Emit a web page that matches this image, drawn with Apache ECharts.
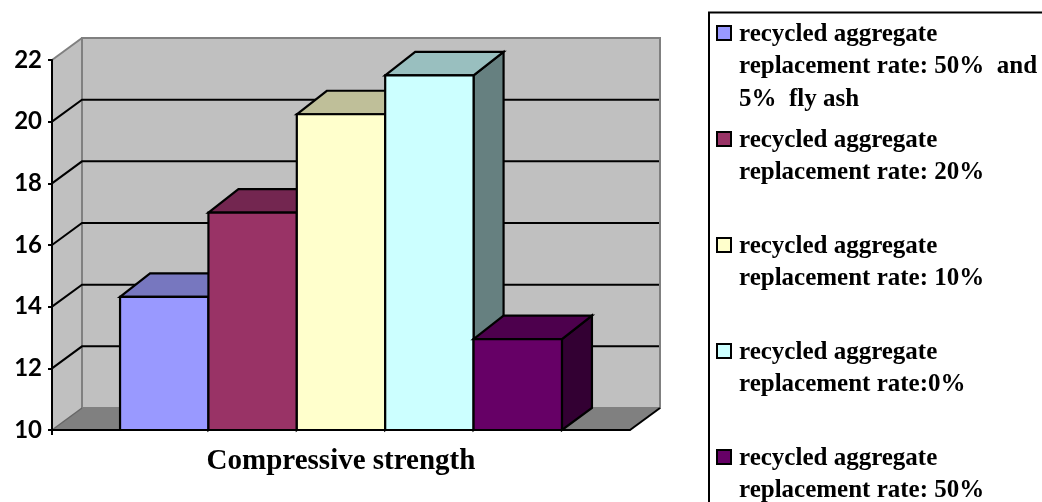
<!DOCTYPE html>
<html>
<head>
<meta charset="utf-8">
<title>Compressive strength</title>
<style>html,body{margin:0;padding:0;background:#fff}#chart{width:1042px;height:502px}</style>
<script src="https://cdn.jsdelivr.net/npm/echarts@6/dist/echarts.min.js"></script>
</head>
<body>
<div id="chart"></div>
<script>
// Compressive strength by recycled aggregate mix
const categories = ['Compressive strength'];
const yTicks = [10, 12, 14, 16, 18, 20, 22];
const seriesNames = [
  'recycled aggregate replacement rate: 50% and 5% fly ash',
  'recycled aggregate replacement rate: 20%',
  'recycled aggregate replacement rate: 10%',
  'recycled aggregate replacement rate:0%',
  'recycled aggregate replacement rate: 50%'
];
const legendLines = [
  ['recycled aggregate', 'replacement rate: 50%  and', '5%  fly ash'],
  ['recycled aggregate', 'replacement rate: 20%'],
  ['recycled aggregate', 'replacement rate: 10%'],
  ['recycled aggregate', 'replacement rate:0%'],
  ['recycled aggregate', 'replacement rate: 50%']
];
const seriesValues = [14.32, 17.05, 20.24, 21.5, 12.95];
const frontColors = ['#9999FF', '#993366', '#FFFFCC', '#CCFFFF', '#660066'];
const topColors = ['#7777BF', '#732650', '#BFBF99', '#99BFBF', '#4D004D'];
const sideColors = ['#666699', '#4D1A33', '#808066', '#668080', '#330033'];
// Descenders of the running text line above the figure, cut by the page edge
const headerGlyphs = [['p', 36], ['y', 210], ['g', 395], ['g', 411], ['g', 450]];

// Oblique projection of the box depth, and Excel-style gap around the cluster
const DEPTH_X = 30, DEPTH_Y = -22, BOX_TOP_DEPTH_Y = -23.5, GAP_RATIO = 0.77;
const WALL = '#C0C0C0', FLOOR = '#808080', EDGE = '#808080';
const SERIF = '"Liberation Serif", serif';

function poly(points, fill, stroke, lineWidth) {
  return {
    type: 'polygon',
    shape: { points: points },
    style: { fill: fill, stroke: stroke || null, lineWidth: lineWidth || 0, lineJoin: 'miter' }
  };
}

// Side wall, back wall, floor and the receding grid lines
function renderWalls(params, api) {
  const cs = params.coordSys;
  const left = cs.x, right = cs.x + cs.width;
  const y = api.coord([0, api.value(1)])[1];
  const children = [];
  if (params.dataIndex === 0) {
    const top = cs.y, bottom = cs.y + cs.height;
    children.push(poly([[left, top], [left + DEPTH_X, top + DEPTH_Y], [left + DEPTH_X, bottom + DEPTH_Y], [left, bottom]], WALL));
    children.push(poly([[left + DEPTH_X, top + DEPTH_Y], [right + DEPTH_X, top + DEPTH_Y], [right + DEPTH_X, bottom + DEPTH_Y], [left + DEPTH_X, bottom + DEPTH_Y]], WALL, EDGE, 2));
    children.push(poly([[left, bottom], [left + DEPTH_X, bottom + DEPTH_Y], [right + DEPTH_X, bottom + DEPTH_Y], [right, bottom]], FLOOR));
    children.push({ type: 'line', shape: { x1: left, y1: top, x2: left + DEPTH_X, y2: top + DEPTH_Y }, style: { stroke: EDGE, lineWidth: 2 } });
    children.push({ type: 'line', shape: { x1: left, y1: bottom, x2: left + DEPTH_X, y2: bottom + DEPTH_Y }, style: { stroke: '#666', lineWidth: 1.5 } });
    children.push({ type: 'line', shape: { x1: right, y1: bottom, x2: right + DEPTH_X, y2: bottom + DEPTH_Y }, style: { stroke: '#000', lineWidth: 2 } });
    // Axis corner mark below the origin
    children.push({ type: 'line', shape: { x1: left, y1: bottom, x2: left, y2: bottom + 5 }, style: { stroke: '#000', lineWidth: 2 } });
  }
  const v = api.value(1);
  if (v > yTicks[0] && v < yTicks[yTicks.length - 1]) {
    children.push({
      type: 'polyline',
      shape: { points: [[left, y], [left + DEPTH_X, y + DEPTH_Y], [right + DEPTH_X - 1, y + DEPTH_Y]] },
      style: { stroke: '#000', lineWidth: 2, fill: null, lineJoin: 'miter' }
    });
  }
  return { type: 'group', children: children };
}

// One box per mix, placed side by side inside the single category band
function makeBoxRenderer(index) {
  return function (params, api) {
    const center = api.coord([api.value(0), api.value(1)]);
    const base = api.coord([api.value(0), yTicks[0]]);
    const band = api.size([1, 0])[0];
    const barW = band / (seriesValues.length + 2 * GAP_RATIO);
    const x0 = center[0] - barW * seriesValues.length / 2 + index * barW;
    const x1 = x0 + barW;
    const top = center[1], bot = base[1];
    const backTop = top + BOX_TOP_DEPTH_Y;
    const line = { stroke: '#000', lineWidth: 2.2 };
    return {
      type: 'group',
      children: [
        poly([[x1, top], [x1 + DEPTH_X, backTop], [x1 + DEPTH_X, bot + DEPTH_Y], [x1, bot]], sideColors[index], line.stroke, line.lineWidth),
        poly([[x0, top], [x0 + DEPTH_X, backTop], [x1 + DEPTH_X, backTop], [x1, top]], topColors[index], line.stroke, line.lineWidth),
        poly([[x0, top], [x1, top], [x1, bot], [x0, bot]], frontColors[index], line.stroke, line.lineWidth)
      ]
    };
  };
}

const boxSeries = seriesNames.map(function (name, i) {
  return {
    type: 'custom',
    name: name,
    z: 3,
    data: [[0, seriesValues[i]]],
    encode: { x: 0, y: 1 },
    renderItem: makeBoxRenderer(i)
  };
});

// Hand-laid legend: each swatch lines up with the first row of its text block
const LEGEND_X = 709, LEGEND_Y = 12.5, SWATCH_Y0 = 33, ROW_STEP = 106, LINE_STEP = 32.5, TEXT_NUDGE = 1.5;
const legendGraphics = [{
  type: 'rect',
  shape: { x: LEGEND_X, y: LEGEND_Y, width: 400, height: 600 },
  style: { fill: '#fff', stroke: '#000', lineWidth: 2 },
  silent: true
}];
legendLines.forEach(function (lines, i) {
  const cy = SWATCH_Y0 + i * ROW_STEP;
  legendGraphics.push({
    type: 'rect',
    shape: { x: 717, y: cy - 7, width: 14, height: 14 },
    style: { fill: frontColors[i], stroke: '#000', lineWidth: 2 }
  });
  lines.forEach(function (text, j) {
    legendGraphics.push({
      type: 'text',
      x: 739,
      y: cy + j * LINE_STEP + TEXT_NUDGE,
      style: { text: text, fontFamily: SERIF, fontWeight: 'bold', fontSize: 25, fill: '#000', verticalAlign: 'middle', align: 'left' }
    });
  });
});
headerGlyphs.forEach(function (g) {
  legendGraphics.push({
    type: 'text',
    x: g[1],
    y: -11.5,
    style: { text: g[0], fontFamily: SERIF, fontWeight: 'bold', fontSize: 25, fill: '#000', verticalAlign: 'middle', align: 'center' }
  });
});

const chart = echarts.init(document.getElementById('chart'), null, { renderer: 'canvas' });
chart.setOption({
  animation: false,
  backgroundColor: '#fff',
  grid: { left: 52, top: 60, width: 578, height: 370, containLabel: false },
  xAxis: {
    type: 'category',
    data: categories,
    z: 5,
    axisLine: { show: true, lineStyle: { color: '#000', width: 2 } },
    axisTick: { show: false },
    axisLabel: { color: '#000', fontFamily: SERIF, fontWeight: 'bold', fontSize: 29, margin: 17 }
  },
  yAxis: {
    type: 'value',
    min: 10,
    max: 22,
    interval: 2,
    z: 5,
    axisLine: { show: true, onZero: false, lineStyle: { color: '#000', width: 2 } },
    axisTick: { show: true, length: 4, lineStyle: { color: '#000', width: 2 } },
    axisLabel: { color: '#000', fontFamily: 'Lato', fontWeight: 'bold', fontSize: 24, margin: 10 },
    splitLine: { show: false }
  },
  series: [{
    type: 'custom',
    name: 'walls',
    z: 1,
    silent: true,
    data: yTicks.map(function (t) { return [0, t]; }),
    encode: { x: 0, y: 1 },
    renderItem: renderWalls
  }].concat(boxSeries),
  graphic: legendGraphics
});
</script>
</body>
</html>
